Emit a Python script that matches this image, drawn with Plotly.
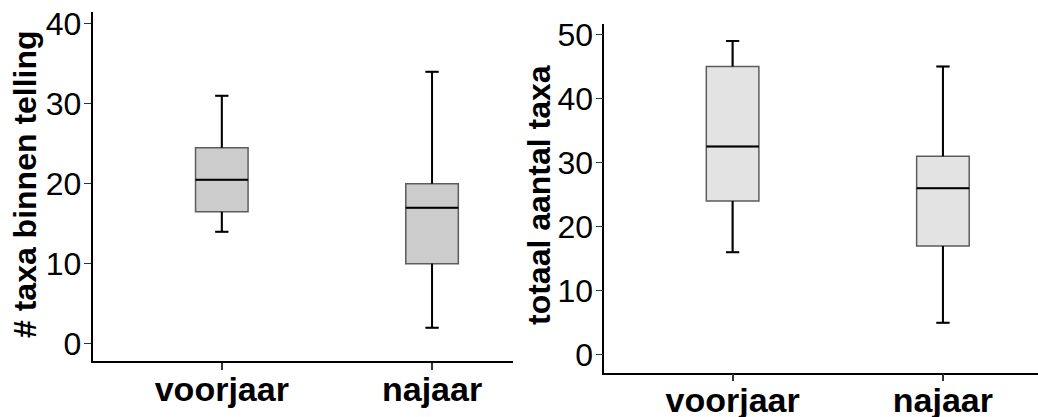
import plotly.graph_objects as go

# Seasons on the x axis
categories = ["voorjaar", "najaar"]

# Left panel: number of taxa per count
count_q1 = [16.5, 10]
count_median = [20.5, 17]
count_q3 = [24.5, 20]
count_low = [14, 2]
count_high = [31, 34]
count_ticks = [0, 10, 20, 30, 40]

# Right panel: total number of taxa
total_q1 = [24, 17]
total_median = [32.5, 26]
total_q3 = [45, 31]
total_low = [16, 5]
total_high = [49, 45]
total_ticks = [0, 10, 20, 30, 40, 50]

W, H = 1038, 417
BOX_W = 0.25
CAP_W = BOX_W * 0.25
FONT = "Liberation Sans, Arial, sans-serif"

fig = go.Figure()


def add_panel(xa, ya, q1, med, q3, low, high, fill):
    pos = list(range(len(categories)))
    fig.add_trace(go.Box(
        x=pos, q1=q1, median=med, q3=q3, lowerfence=low, upperfence=high,
        width=BOX_W, whiskerwidth=0.25, fillcolor=fill,
        line=dict(color="#5c5c5c", width=1.5), boxpoints=False,
        hoverinfo="skip", showlegend=False, xaxis=xa, yaxis=ya))
    # whiskers, caps and median in black over the box
    xs, ys = [], []
    for i, p in enumerate(pos):
        xs += [p, p, None, p - CAP_W / 2, p + CAP_W / 2, None,
               p, p, None, p - CAP_W / 2, p + CAP_W / 2, None,
               p - BOX_W / 2, p + BOX_W / 2, None]
        ys += [q3[i], high[i], None, high[i], high[i], None,
               q1[i], low[i], None, low[i], low[i], None,
               med[i], med[i], None]
    fig.add_trace(go.Scatter(x=xs, y=ys, mode="lines",
                             line=dict(color="black", width=2),
                             hoverinfo="skip", showlegend=False,
                             xaxis=xa, yaxis=ya))


add_panel("x", "y", count_q1, count_median, count_q3, count_low, count_high, "#cccccc")
add_panel("x2", "y2", total_q1, total_median, total_q3, total_low, total_high, "#e3e3e3")

xcommon = dict(showline=True, linecolor="black", linewidth=1.5, ticks="outside",
               ticklen=7, tickwidth=1.5, tickcolor="#333333", showgrid=False,
               zeroline=False, tickvals=[0, 1], ticktext=categories,
               automargin=False, ticklabelstandoff=-10,
               tickfont=dict(family=FONT, size=34, color="black", weight="bold"))
ycommon = dict(showline=True, linecolor="black", linewidth=1.5, ticks="outside",
               ticklen=7, tickwidth=1, tickcolor="#333333", showgrid=False,
               zeroline=False, automargin=False, ticklabelstandoff=-4,
               tickfont=dict(family=FONT, size=32, color="black"))

fig.update_layout(
    width=W, height=H, margin=dict(l=0, r=0, t=0, b=0, autoexpand=False),
    paper_bgcolor="white", plot_bgcolor="white", boxmode="overlay",
    xaxis=dict(domain=[92.5 / W, 513 / W], range=[-0.615, 1.385], **xcommon),
    yaxis=dict(domain=[(H - 361) / H, (H - 12) / H], range=[-2.16, 41.46],
               tickvals=count_ticks, **ycommon),
    xaxis2=dict(domain=[604.3 / W, 1.0], range=[-0.61, 1.452], anchor="y2", **xcommon),
    yaxis2=dict(domain=[(H - 372.7) / H, (H - 24.3) / H], range=[-2.8, 51.6],
                anchor="x2", tickvals=total_ticks, **ycommon),
    annotations=[
        dict(text="# taxa binnen telling", textangle=-90, showarrow=False,
             xref="paper", yref="paper", x=25 / W, y=1 - 184 / H,
             xanchor="center", yanchor="middle",
             font=dict(family=FONT, size=32, color="black", weight="bold")),
        dict(text="totaal aantal taxa", textangle=-90, showarrow=False,
             xref="paper", yref="paper", x=539 / W, y=1 - 195 / H,
             xanchor="center", yanchor="middle",
             font=dict(family=FONT, size=32, color="black", weight="bold")),
    ],
)

fig.write_html("out.html")
